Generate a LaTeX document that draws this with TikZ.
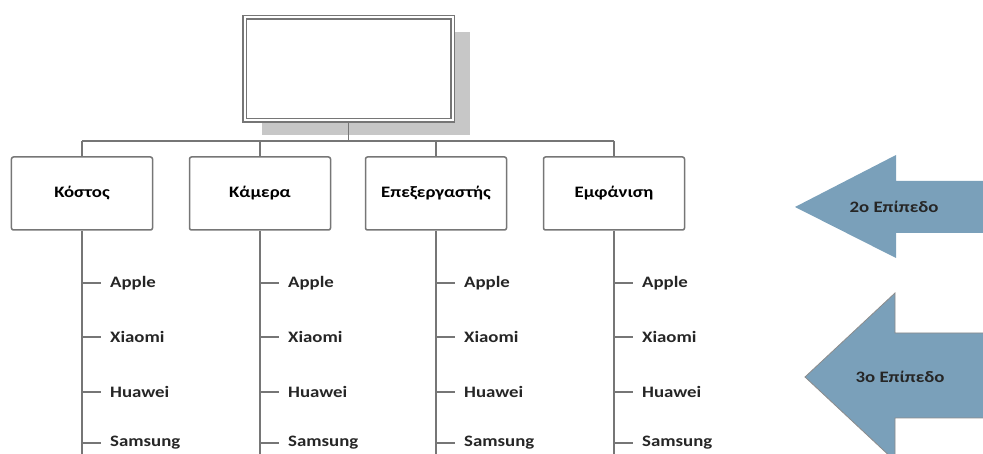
\documentclass[tikz,border=0pt]{standalone}
\usepackage{fontspec}
\setmainfont{Carlito}[FakeStretch=1.18]
\usetikzlibrary{positioning,shadows}
\definecolor{levelblue}{RGB}{122,160,186}
\definecolor{boxline}{RGB}{118,118,118}

\begin{document}
\begin{tikzpicture}[x=1bp,y=-1bp,font=\fontsize{16}{19}\selectfont\bfseries]
       \tikzset{root/.style ={rectangle,minimum width=208bp, minimum height=103bp, draw=boxline, fill=white,
               double=white, double distance=2bp, line width=1.6bp,
               drop shadow={shadow xshift=17bp, shadow yshift=-15bp, fill=black!22, opacity=1}}}

       \tikzset{crit/.style={rectangle ,minimum width=141bp,
minimum height=73bp, rounded corners=2pt, draw=boxline, line width=1.5bp}}

       \tikzset{brand/.style={anchor=west, inner sep=0pt, text=black!85}}
       \tikzset{wire/.style={draw=boxline, line width=1.8bp}}
       \tikzset{level/.style={fill=levelblue}}

        \useasboundingbox (0,0) rectangle (983,454);
        \clip (0,0) rectangle (983,454);

        \node[root] (top) at (348.5,69) {};
        \node[crit] (kostos) at (82,193.5) {Κόστος};
        \node[crit] (kamera) at (260,193.5) {Κάμερα};
        \node[crit] (epex) at (436,193.5) {Επεξεργαστής};
        \node[crit] (emfanisi) at (614,193.5) {Εμφάνιση};
        \coordinate (bus) at (0,141);

        \draw[wire](top.south) -- (top.south |- bus);
        \draw[wire](kostos.north |- bus) -- (emfanisi.north |- bus);
        \foreach \n in {kostos,kamera,epex,emfanisi}
            \draw[wire](\n.north |- bus) -- (\n.north);

        % brands under each criterion
        \foreach \n in {kostos,kamera,epex,emfanisi}{
            \coordinate (\n-end) at (\n.south |- 0,460);
            \draw[wire](\n.south) -- (\n-end);
            \foreach \b/\y in {Apple/283,Xiaomi/337,Huawei/392,Samsung/443}{
                \path (\n.south |- 0,\y) ++(28,0) node[brand] (\n-\b) {\b};
                \draw[wire](\n.south |- \n-\b.west) -- ([xshift=-9bp]\n-\b.west);
            }
        }

        % level arrows
        \fill[level] (795,207) -- (896,155) -- (896,181) -- (990,181) -- (990,233)
            -- (896,233) -- (896,258) -- cycle;
        \filldraw[level, draw=black!45, line width=0.8bp] (805,377) -- (895,293) -- (895,333)
            -- (990,333) -- (990,418) -- (895,418) -- (895,461) -- cycle;
        \node[text=black!85] (lvl2) at (894,207) {2ο Επίπεδο};
        \node[text=black!85] (lvl3) at (900,377) {3ο Επίπεδο};

   \end{tikzpicture}
\end{document}
